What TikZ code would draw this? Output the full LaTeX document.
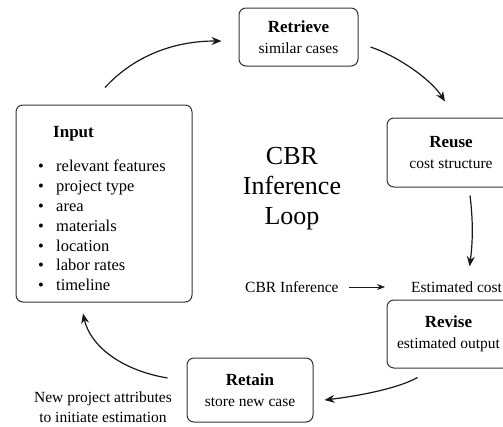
\documentclass[tikz,border=0pt]{standalone}
\usepackage{fontspec}
\setmainfont{Liberation Serif}
\usetikzlibrary{arrows.meta}
\tikzset{
stage/.style = { rectangle, draw = black!80, line width = 1pt, fill = white, rounded corners = 7pt, align = center, inner sep = 0pt, font = \fontsize{15.5}{21}\selectfont },
flow/.style = { -{Stealth[length = 10pt, width = 8pt]}, line width = 1.2pt, black!90 },
plain text/.style = { font = \fontsize{15.5}{20}\selectfont, inner sep = 0pt, align = center },
}
\newcommand{\stagetext}[2]{{\fontsize{17}{21}\selectfont\bfseries #1}\\#2}

\begin{document}
\begin{tikzpicture}[x = 1pt, y = -1pt]
      \useasboundingbox (0, 0) rectangle (503, 426);
      % stages of the loop
      \node[stage, minimum width = 176pt, minimum height = 197pt] (input) at (104, 203.5) {};
      \node[stage, minimum width = 119pt, minimum height = 58pt] (retrieve) at (298.5, 37) {\stagetext{Retrieve}{similar cases}};
      \node[stage, minimum width = 128pt, minimum height = 69pt] (reuse) at (451, 152.5) {\stagetext{Reuse}{cost structure}};
      \node[stage, minimum width = 123pt, minimum height = 68pt] (revise) at (448.5, 334) {\stagetext{Revise}{estimated output}};
      \node[stage, minimum width = 126pt, minimum height = 64pt] (retain) at (250, 390) {\stagetext{Retain}{store new case}};
      % contents of the input box
      \node[inner sep = 0pt, anchor = west, font = \fontsize{17}{20}\selectfont\bfseries] (inputtitle) at (53, 134) {Input};
      \node[inner sep = 0pt, anchor = north west, align = left, font = \fontsize{16.5}{19.8}\selectfont] (inputlist) at (38, 160) {%
        \makebox[18pt][l]{•}relevant features\\
        \makebox[18pt][l]{•}project type\\
        \makebox[18pt][l]{•}area\\
        \makebox[18pt][l]{•}materials\\
        \makebox[18pt][l]{•}location\\
        \makebox[18pt][l]{•}labor rates\\
        \makebox[18pt][l]{•}timeline};
      % centre and side texts
      \node[inner sep = 0pt, align = center, font = \fontsize{26}{30}\selectfont] (loop) at (292, 189) {CBR\\Inference\\Loop};
      \node[plain text, anchor = west] (infer) at (245, 287) {CBR Inference};
      \node[plain text, anchor = west] (cost) at (411, 287) {Estimated cost};
      \node[plain text] (newproj) at (103, 407) {New project attributes\\to initiate estimation};
      % connectors
      \draw[flow] ([shift = {(1, -17)}]input.north) .. controls (135, 55) and (175, 41) .. ([shift = {(-17, 4)}]retrieve.west);
      \draw[flow] ([shift = {(12, 10)}]retrieve.east) .. controls (395, 55) and (430, 78) .. ([shift = {(-6, -16)}]reuse.north);
      \draw[flow] ([shift = {(19, 8)}]reuse.south) .. controls (473, 220) and (473, 240) .. ([shift = {(13, -15)}]cost.north);
      \draw[flow] ([shift = {(-31, 9)}]revise.south) .. controls (395, 390) and (350, 397) .. ([shift = {(11, 10)}]retain.east);
      \draw[flow] ([shift = {(-19, -12)}]retain.west) .. controls (120, 370) and (90, 345) .. ([shift = {(-21, 11)}]input.south);
      \draw[-{Stealth[length = 8pt, width = 6pt]}, line width = 0.8pt, black!90, shorten <= 10pt, shorten >= 26pt] (infer.east) -- (cost.west);
\end{tikzpicture}
\end{document}
